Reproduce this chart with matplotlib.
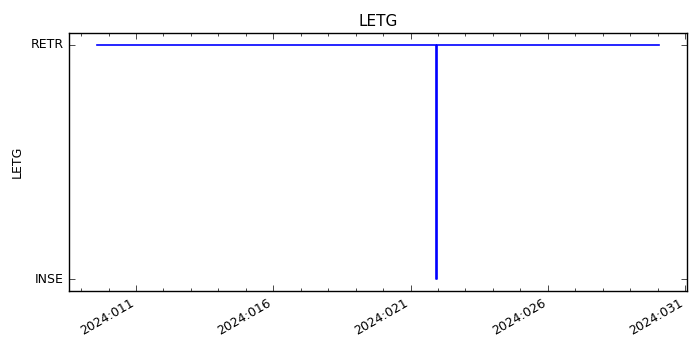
import matplotlib
matplotlib.use("Agg")
import matplotlib.pyplot as plt
from matplotlib.ticker import FixedLocator, FuncFormatter, MultipleLocator

plt.style.use("classic")

# LETG state vs day of year 2024
doy = [9.58, 21.93, 21.93, 21.97, 21.97, 30.05]
state = [1, 1, 0, 0, 1, 1]
state_names = ["INSE", "RETR"]
major_days = [11, 16, 21, 26, 31]
year = 2024

fig = plt.figure(figsize=(7, 3.5), dpi=100)
fig.patch.set_facecolor("white")
ax = fig.add_axes([0.0986, 0.169, 0.8828, 0.737])

ax.plot(doy, state, "-", color="b", lw=1.2)

ax.set_xlim(8.56, 31.07)
ax.set_ylim(-0.05, 1.05)
ax.set_yticks([0, 1])
ax.set_yticklabels(state_names)
ax.xaxis.set_major_locator(FixedLocator(major_days))
ax.xaxis.set_minor_locator(MultipleLocator(1))
ax.xaxis.set_major_formatter(FuncFormatter(lambda x, pos: f"{year}:{int(round(x)):03d}"))
ax.tick_params(labelsize=9)
for lab in ax.get_xticklabels():
    lab.set_rotation(30)
    lab.set_ha("right")

ax.set_ylabel("LETG", fontsize=9)
ax.set_title("LETG", fontsize=11)

fig.savefig("out.png", dpi=100, facecolor="white")
